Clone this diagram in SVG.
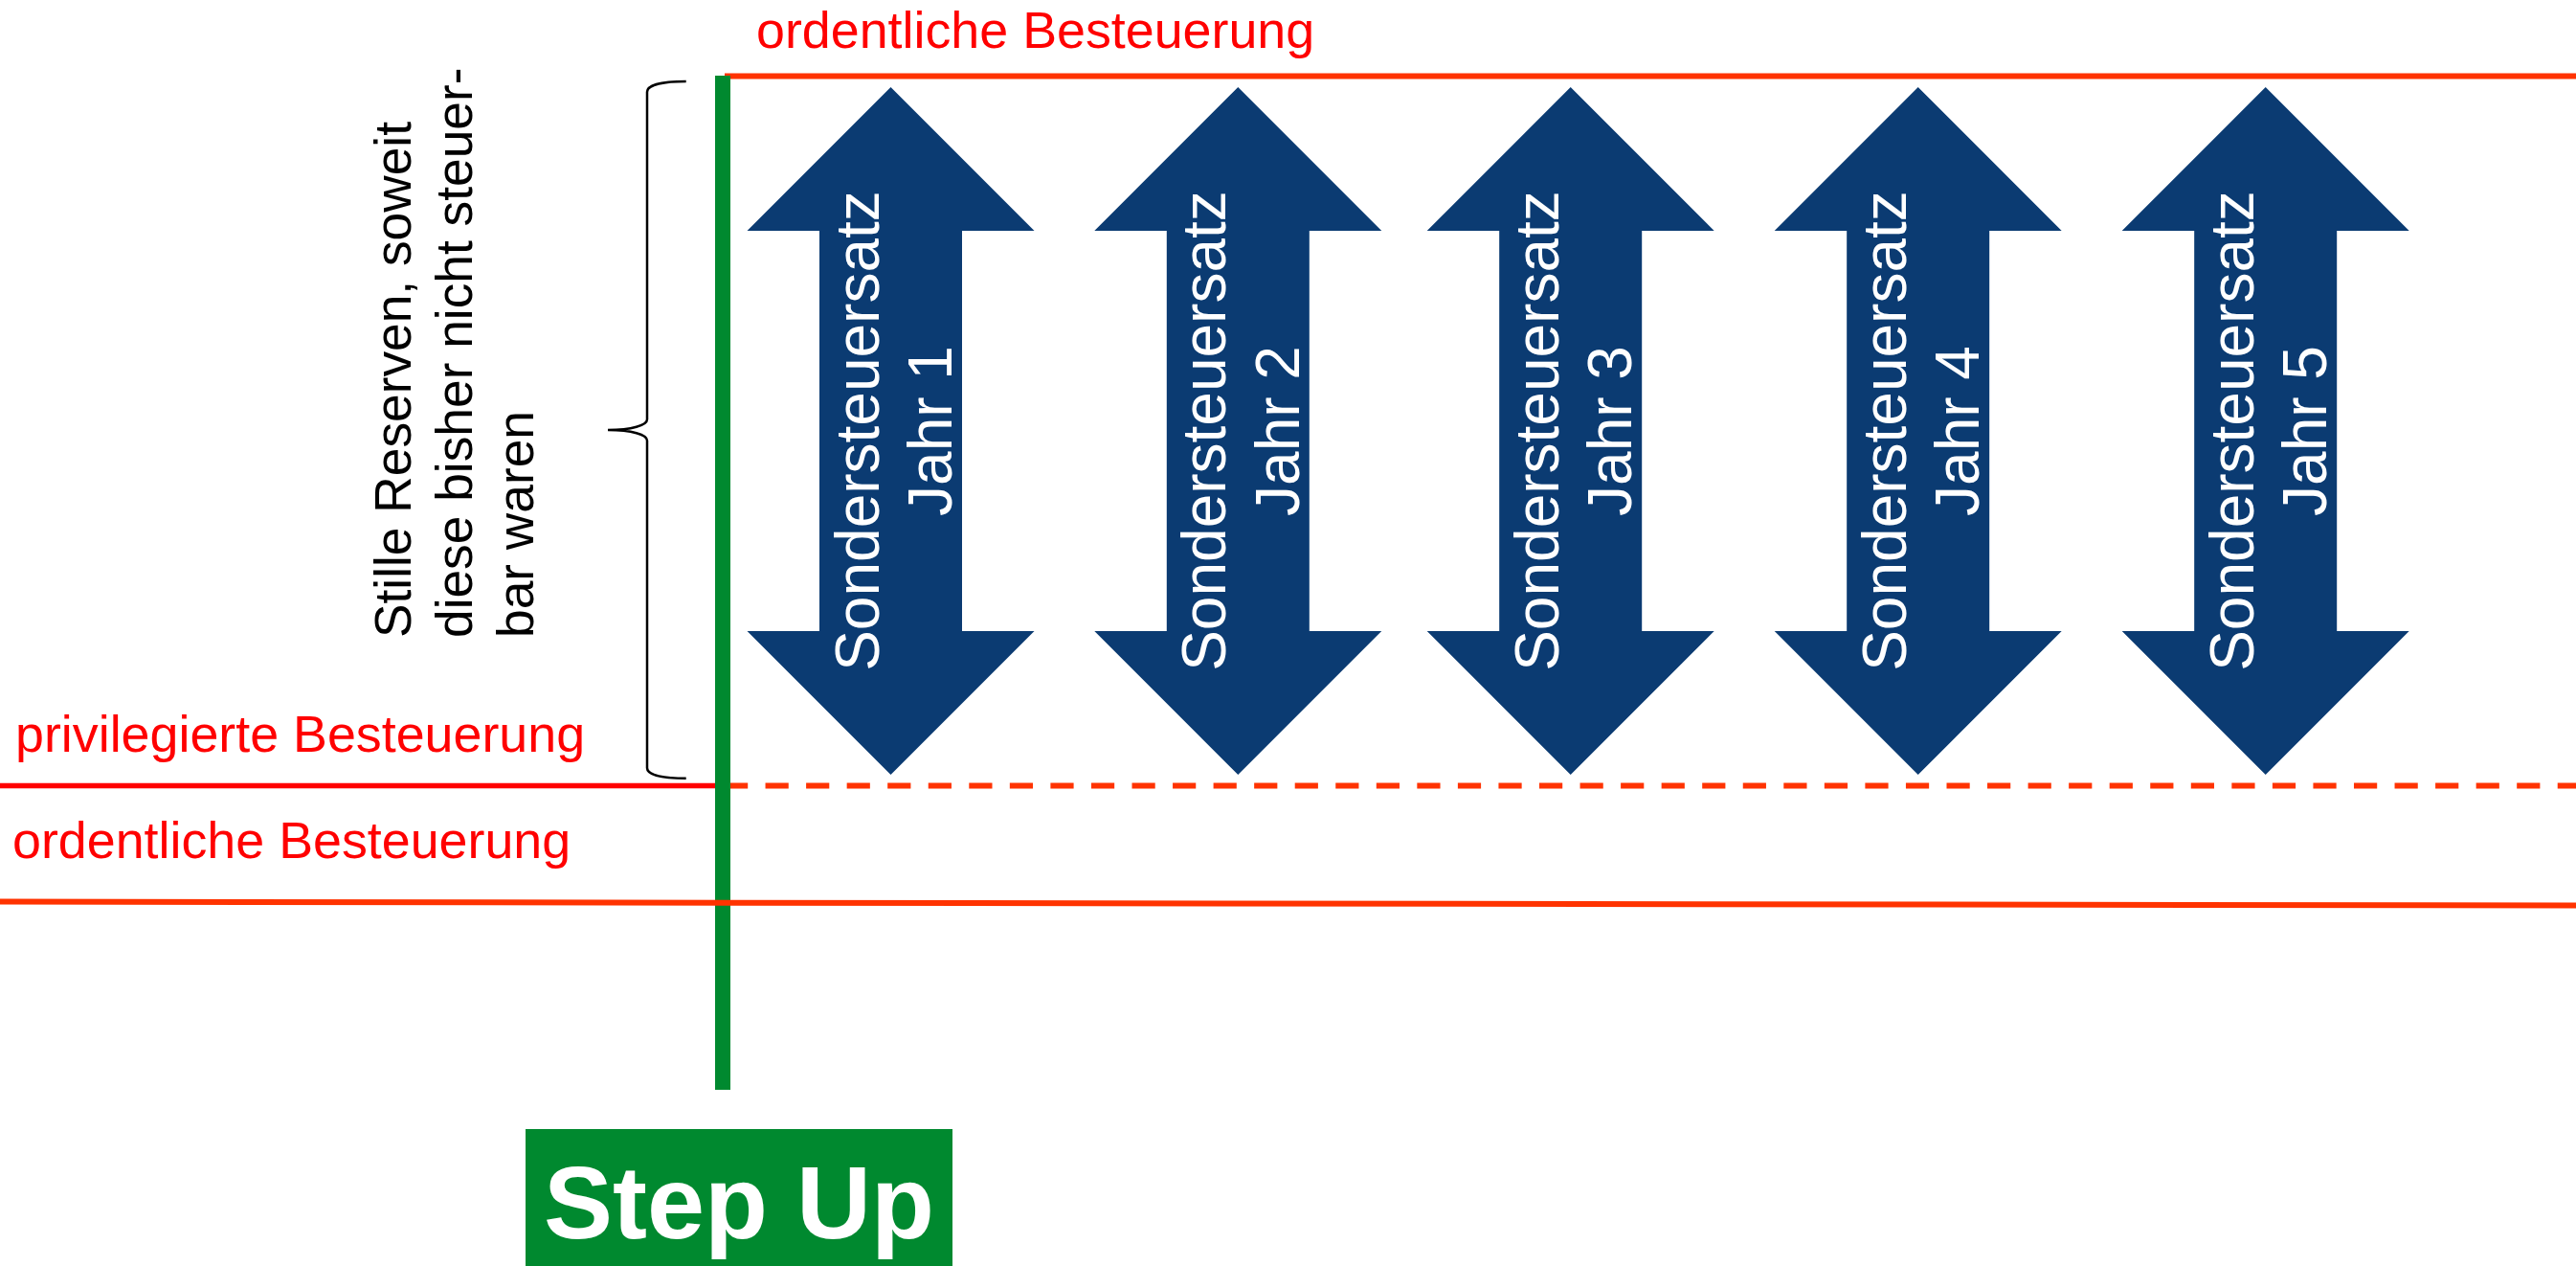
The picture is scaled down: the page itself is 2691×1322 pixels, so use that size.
<svg xmlns="http://www.w3.org/2000/svg" width="2691" height="1322" viewBox="0 0 2691 1322">
<style>
.lbl{font-family:"Liberation Sans",Arial,sans-serif;font-size:53.8px;fill:#FF0000}
.side{font-family:"Liberation Sans",Arial,sans-serif;font-size:53.3px;fill:#000000}
.arr{fill:#0B3B72}
.at{font-family:"Liberation Sans",Arial,sans-serif;font-size:64px;fill:#FFFFFF;text-anchor:middle}
.rl{stroke:#FF3300;stroke-width:6;fill:none}
</style>
<defs>
<polygon id="dblarrow" points="0,91 150,241 74.5,241 74.5,659 150,659 0,809 -150,659 -74.5,659 -74.5,241 -150,241"/>
</defs>
<rect width="2691" height="1322" fill="#FFFFFF"/>
<g id="connectors">
<line class="rl" x1="757" y1="79.5" x2="2691" y2="79.5"/>
<line x1="0" y1="820.5" x2="757" y2="820.5" stroke="#FF0000" stroke-width="5.5"/>
<line class="rl" x1="757" y1="820.5" x2="2691" y2="820.5" stroke-dasharray="24.2 18.35"/>
<rect id="stepline" x="747" y="79" width="16" height="1059" fill="#00892F"/>
<line class="rl" x1="0" y1="941.5" x2="2691" y2="945.5" stroke-width="5.5"/>
<path id="brace" d="M716.7,85 C695,85 676,88 676,96 L676,438 C676,444 660,449 635,449 C660,449 676,454 676,460 L676,802 C676,810 695,812.7 716.7,812.7" fill="none" stroke="#000000" stroke-width="2.5"/>
</g>
<g id="label-top"><text class="lbl" x="790" y="50">ordentliche Besteuerung</text></g>
<g id="label-priv"><text class="lbl" x="16" y="785">privilegierte Besteuerung</text></g>
<g id="label-ord"><text class="lbl" x="13" y="896">ordentliche Besteuerung</text></g>
<g id="side-text"><text class="side" transform="translate(428.5,666) rotate(-90)"><tspan x="0" y="0" textLength="539" lengthAdjust="spacing">Stille Reserven, soweit</tspan><tspan x="0" y="64.2">diese bisher nicht steuer-</tspan><tspan x="0" y="128.4">bar waren</tspan></text></g>
<g id="arrow1"><use href="#dblarrow" class="arr" x="930.5"/><text class="at" transform="translate(917.5,450) rotate(-90)"><tspan x="0" y="0">Sondersteuersatz</tspan><tspan x="0" y="76.5">Jahr 1</tspan></text></g>
<g id="arrow2"><use href="#dblarrow" class="arr" x="1293.3"/><text class="at" transform="translate(1280.3,450) rotate(-90)"><tspan x="0" y="0">Sondersteuersatz</tspan><tspan x="0" y="76.5">Jahr 2</tspan></text></g>
<g id="arrow3"><use href="#dblarrow" class="arr" x="1640.7"/><text class="at" transform="translate(1627.7,450) rotate(-90)"><tspan x="0" y="0">Sondersteuersatz</tspan><tspan x="0" y="76.5">Jahr 3</tspan></text></g>
<g id="arrow4"><use href="#dblarrow" class="arr" x="2003.7"/><text class="at" transform="translate(1990.7,450) rotate(-90)"><tspan x="0" y="0">Sondersteuersatz</tspan><tspan x="0" y="76.5">Jahr 4</tspan></text></g>
<g id="arrow5"><use href="#dblarrow" class="arr" x="2366.7"/><text class="at" transform="translate(2353.7,450) rotate(-90)"><tspan x="0" y="0">Sondersteuersatz</tspan><tspan x="0" y="76.5">Jahr 5</tspan></text></g>
<g id="stepup"><rect x="549" y="1179" width="446" height="143" fill="#00892F"/><text x="772" y="1293" font-family="'Liberation Sans',Arial,sans-serif" font-size="108" font-weight="bold" fill="#FFFFFF" text-anchor="middle">Step Up</text></g>
</svg>
